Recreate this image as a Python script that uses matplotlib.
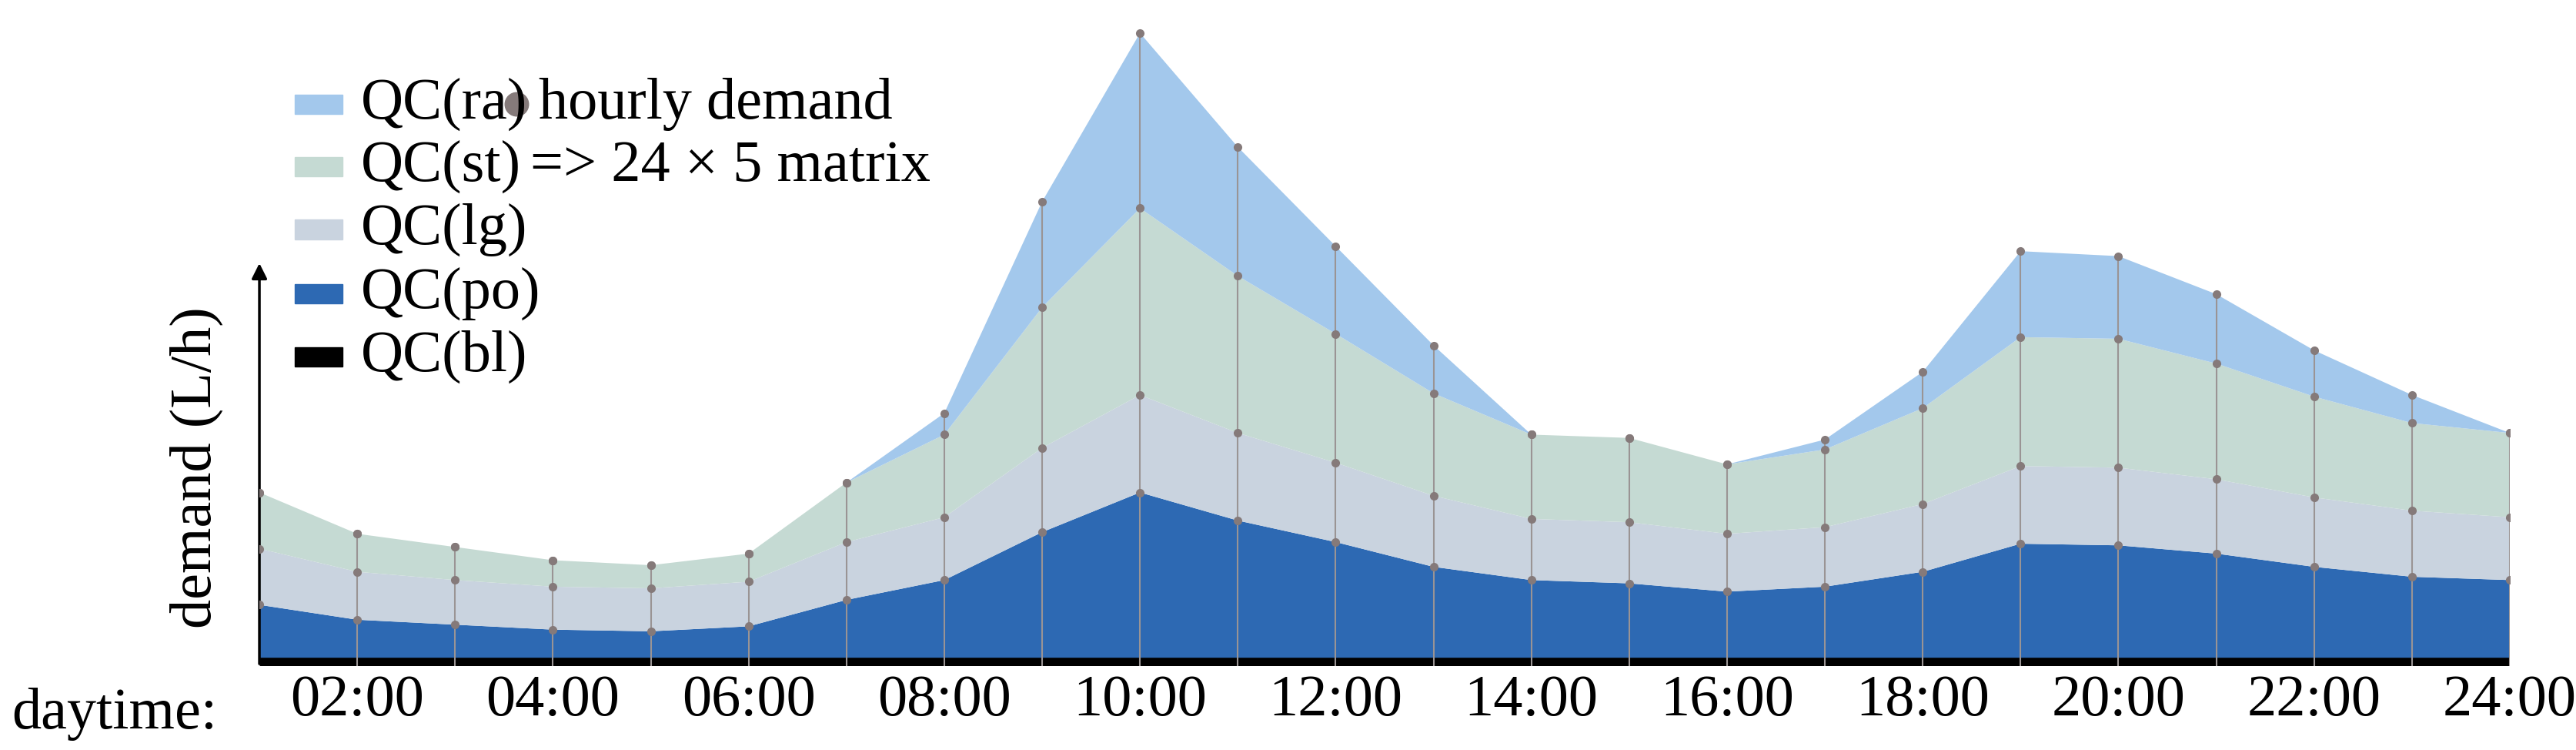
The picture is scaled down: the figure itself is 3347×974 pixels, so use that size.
import matplotlib.pyplot as plt
from matplotlib.patches import Rectangle
import numpy as np

plt.rcParams['font.family'] = ['Liberation Serif', 'DejaVu Serif']

# hourly demand per quantity class (arbitrary units), hours 1..24
hours = list(range(1, 25))
qc_bl = [5] * 24
qc_po = [32, 23, 20, 17, 16, 19, 35, 47, 76, 100, 83, 70, 55, 47, 45, 40, 43, 52, 69, 68, 63, 55, 49, 47]
qc_lg = [34, 29, 27, 26, 26, 27, 35, 38, 51, 59, 53, 48, 43, 37, 37, 35, 36, 41, 47, 47, 45, 42, 40, 38]
qc_st = [34, 23, 20, 16, 14, 17, 36, 50, 85, 113, 95, 78, 62, 51, 51, 42, 47, 58, 78, 78, 70, 61, 53, 51]
qc_ra = [0, 0, 0, 0, 0, 0, 0, 13, 64, 106, 78, 53, 29, 0, 0, 0, 6, 22, 52, 50, 42, 28, 17, 0]
tick_hours = list(range(2, 25, 2))
tick_labels = ['%02d:00' % h for h in tick_hours]

colors = ['#000000', '#2d69b3', '#c9d3df', '#c5dad3', '#a3c8ec']
names = ['QC(bl)', 'QC(po)', 'QC(lg)', 'QC(st)', 'QC(ra)']
layers = [qc_bl, qc_po, qc_lg, qc_st, qc_ra]

fig = plt.figure(figsize=(33.47, 9.74), dpi=100)
ax = fig.add_axes([0.1007, 0.112, 0.8736, 0.855])
ax.stackplot(hours, *layers, colors=colors, linewidth=0)

cum = np.cumsum(np.array(layers), axis=0)
for i, h in enumerate(hours):
    ax.plot([h, h], [0, cum[-1, i]], color='#9a9494', lw=1.5, zorder=3)
for k in range(1, 5):
    ax.plot(hours, cum[k], 'o', color='#857a7a', ms=8, mew=0, zorder=4)

ax.set_xlim(1, 24)
ax.set_ylim(0, 388)
for s in ax.spines.values():
    s.set_visible(False)
ax.set_yticks([])
ax.set_xticks(tick_hours)
ax.set_xticklabels(tick_labels, fontsize=55)
ax.tick_params(axis='x', length=0, pad=8)
ax.annotate('', xy=(1, 245), xytext=(1, 0),
            arrowprops=dict(arrowstyle='-|>', color='black', lw=2.5, mutation_scale=30))
ax.set_ylabel('demand (L/h)', fontsize=55, labelpad=0)
ax.yaxis.set_label_coords(-0.016, 0.31)
fig.text(0.0045, 0.029, 'daytime:', fontsize=55, va='baseline')

# legend drawn by hand
rows = [0.861, 0.778, 0.694, 0.608, 0.524]
for y, c, n in zip(rows, colors[::-1], names[::-1]):
    fig.add_artist(Rectangle((0.1145, y - 0.013), 0.0185, 0.026, color=c,
                             transform=fig.transFigure))
    fig.text(0.140, y, n, fontsize=55, va='center')
fig.add_artist(plt.Line2D([0.2006], [0.861], marker='o', ms=22, color='#857a7a',
                          transform=fig.transFigure))
fig.text(0.209, 0.861, 'hourly demand', fontsize=55, va='center')
fig.text(0.206, 0.778, '=> 24 × 5 matrix', fontsize=55, va='center')

fig.savefig('out.png', dpi=100)
